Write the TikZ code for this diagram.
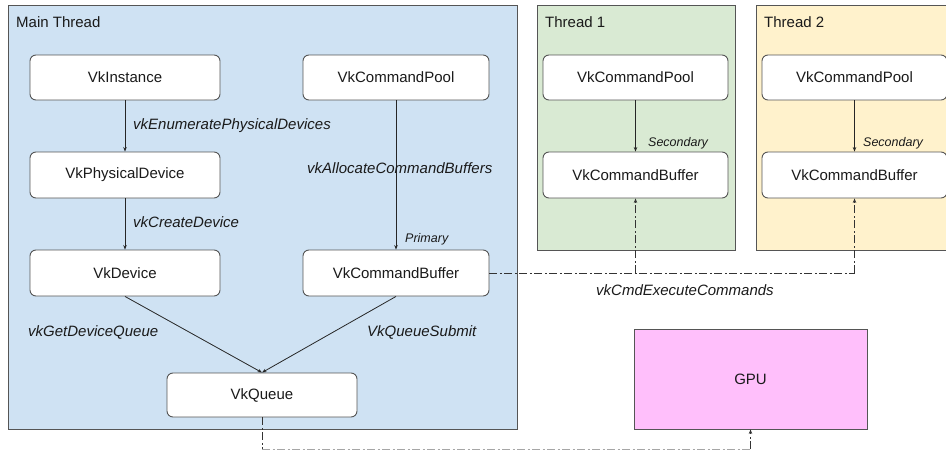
\documentclass[tikz,border=0pt]{standalone}
\usepackage{fontspec}
\setmainfont{Liberation Sans}
\usetikzlibrary{arrows.meta}
\definecolor{mainbg}{HTML}{CFE2F3}
\definecolor{tonebg}{HTML}{D9EAD3}
\definecolor{ttwobg}{HTML}{FFF2CC}
\definecolor{gpubg}{HTML}{FFBFFB}
\definecolor{edgegray}{HTML}{555555}
\definecolor{txt}{HTML}{1A1A1A}
\tikzset{
  container/.style={draw=edgegray, line width=0.9pt, rectangle, inner sep=0pt},
  vkbox/.style={draw=edgegray, line width=0.9pt, fill=white, rounded corners=6pt,
    minimum width=190pt, minimum height=45pt, inner sep=0pt, font=\fontsize{15}{18}\selectfont, text=txt},
  title/.style={anchor=west, inner sep=0pt, font=\fontsize{15}{18}\selectfont, text=txt},
  callname/.style={anchor=west, inner sep=0pt, font=\fontsize{15}{18}\selectfont\itshape, text=txt},
  kindname/.style={anchor=west, inner sep=0pt, font=\fontsize{12.5}{15}\selectfont\itshape, text=txt},
  flow/.style={draw=black!85, line width=0.8pt, -{Stealth[length=4.5pt,width=3.5pt]}},
  dashdot/.style={draw=black!80, line width=0.8pt, dash pattern=on 8pt off 2.5pt on 2pt off 2.5pt},
}
\begin{document}
\begin{tikzpicture}[x=1pt,y=-1pt]
\useasboundingbox (0,0) rectangle (946,450);
\begin{scope}
\clip (0,0) rectangle (946,450);
% containers
\node[container, fill=mainbg, minimum width=509pt, minimum height=424pt] (main) at (262.5,217) {};
\node[container, fill=tonebg, minimum width=198pt, minimum height=245pt] (tone) at (636,127.5) {};
\node[container, fill=ttwobg, minimum width=198pt, minimum height=245pt] (ttwo) at (855,127.5) {};
\node[container, fill=gpubg, minimum width=233pt, minimum height=100pt, font=\fontsize{15}{18}\selectfont, text=txt] (gpu) at (750.5,379) {GPU};

\node[title] (maintitle) at (16,22) {Main Thread};
\node[title] (tonetitle) at (545,22) {Thread 1};
\node[title] (ttwotitle) at (764,22) {Thread 2};

% main thread boxes
\node[vkbox] (inst) at (125,77.5) {VkInstance};
\node[vkbox, minimum height=46pt] (phys) at (125,175) {VkPhysicalDevice};
\node[vkbox, minimum height=46pt] (dev) at (125,273) {VkDevice};
\node[vkbox, minimum width=186pt] (pool) at (396,77.5) {VkCommandPool};
\node[vkbox, minimum width=186pt, minimum height=46pt] (cbuf) at (396,273) {VkCommandBuffer};
\node[vkbox, minimum height=44pt] (queue) at (262,395) {VkQueue};

% thread boxes
\node[vkbox, minimum width=185pt] (poolone) at (635.5,77.5) {VkCommandPool};
\node[vkbox, minimum width=185pt, minimum height=46pt] (cbufone) at (635.5,175) {VkCommandBuffer};
\node[vkbox, minimum width=185pt] (pooltwo) at (854.5,77.5) {VkCommandPool};
\node[vkbox, minimum width=185pt, minimum height=46pt] (cbuftwo) at (854.5,175) {VkCommandBuffer};

% arrows
\draw[flow] (inst) -- (phys);
\draw[flow] (phys) -- (dev);
\draw[flow] (pool) -- (cbuf);
\draw[flow] (dev.south) -- (queue.north);
\draw[flow] (cbuf.south) -- (queue.north);
\draw[flow] (poolone) -- (cbufone);
\draw[flow] (pooltwo) -- (cbuftwo);

% labels
\node[callname] (lenum) at (133,126) {vkEnumeratePhysicalDevices};
\node[callname] (lcreate) at (133,222) {vkCreateDevice};
\node[callname] (lalloc) at (307,168) {vkAllocateCommandBuffers};
\node[kindname] (lprim) at (405,239) {Primary};
\node[kindname] (lsecone) at (648,143) {Secondary};
\node[kindname] (lsectwo) at (863,143) {Secondary};
\node[callname] (lgetq) at (28,332) {vkGetDeviceQueue};
\node[callname] (lsubmit) at (367,332) {VkQueueSubmit};
\node[callname] (lexec) at (596,290) {vkCmdExecuteCommands};

% execute commands connectors
\coordinate (jone) at (cbufone.south |- cbuf.east);
\coordinate (jtwo) at (cbuftwo.south |- cbuf.east);
\draw[dashdot] (cbuf.east) -- (jtwo);
\draw[dashdot, -{Stealth[length=4.5pt,width=3.5pt]}] (jone) -- (cbufone.south);
\draw[dashdot, -{Stealth[length=4.5pt,width=3.5pt]}] (jtwo) -- (cbuftwo.south);

% queue to GPU
\coordinate (qbend) at (queue.south |- 0,449);
\coordinate (gbend) at (gpu.south |- 0,449);
\draw[dashdot] (queue.south) -- (qbend);
\draw[dashdot, draw=black!35] (qbend) -- (gbend);
\draw[dashdot, -{Stealth[length=4.5pt,width=3.5pt]}] (gbend) -- (gpu.south);
\end{scope}
\end{tikzpicture}
\end{document}
